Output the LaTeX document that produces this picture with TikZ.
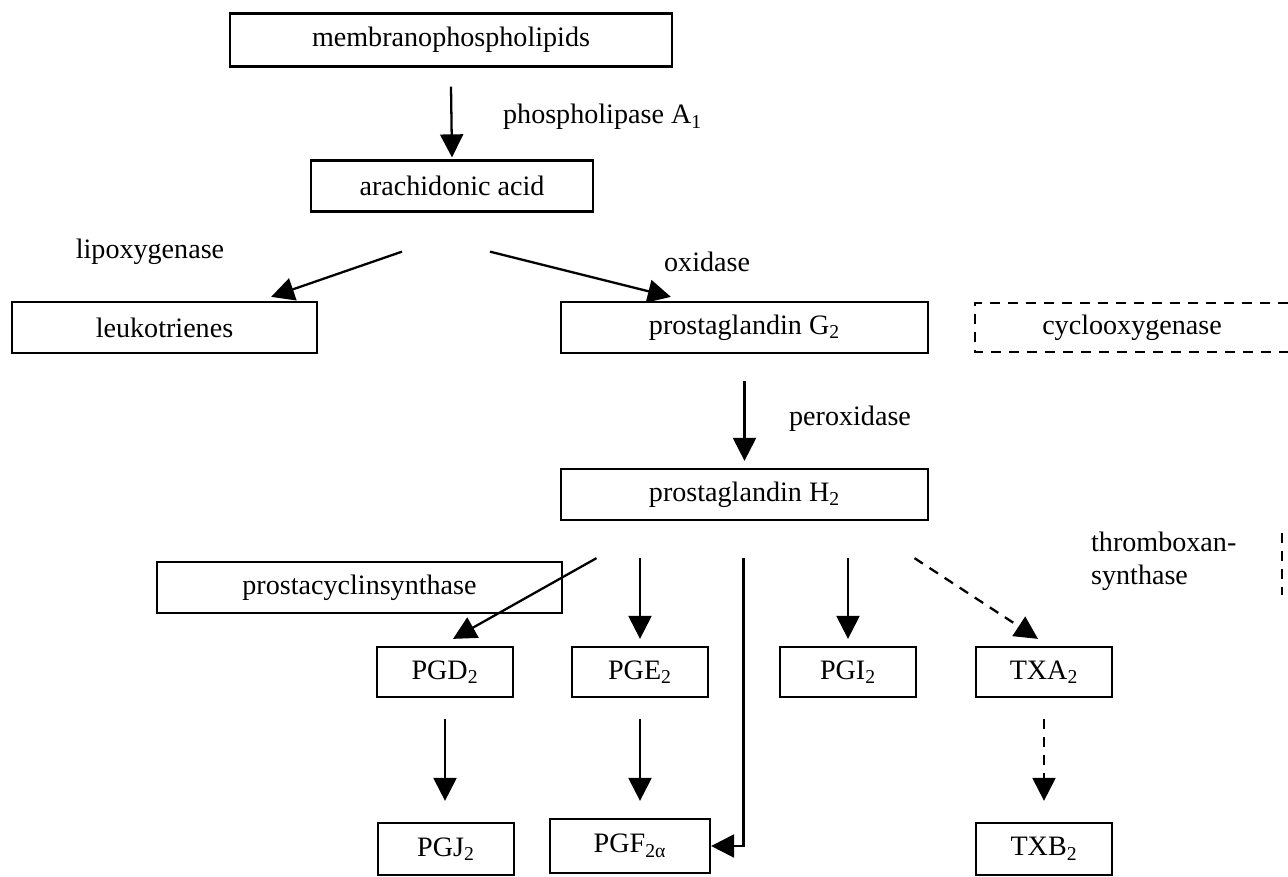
\documentclass[tikz,border=0pt]{standalone}
\usepackage{fontspec}
\setmainfont{Liberation Serif}
\usetikzlibrary{arrows.meta,positioning,calc}

\begin{document}
\begin{tikzpicture}[
  x=0.02cm, y=-0.02cm,
  font=\fontsize{16}{19}\selectfont,
  line width=1.3pt,
  stage/.style={draw,minimum height=1.02cm,inner sep=0pt},
  small/.style={stage,minimum width=2.72cm,minimum height=1.0cm},
  lab/.style={inner sep=0pt},
  arr/.style={-{Triangle[length=0.46cm,width=0.46cm]}},
  dashline/.style={dash pattern=on 0.2cm off 0.16cm}
]
\useasboundingbox (0,0) rectangle (1288,876);
% Top: membrane lipids to arachidonic acid
\node[stage,minimum width=8.84cm,minimum height=1.06cm] (mem) at (451,40) {membranophospholipids};
\node[stage,minimum width=5.64cm] (ara) at (452,186) {arachidonic acid};
\draw[arr] ($(mem.south)+(0,19)$) -- ($(ara.north)+(0,-2)$);
\node[lab,anchor=west] (pla) at (502,117) {phospholipase A\textsubscript{1}};
% Split: lipoxygenase / cyclooxygenase
\node[stage,minimum width=6.1cm] (leu) at (164.5,327.5) {leukotrienes};
\node[stage,minimum width=7.34cm] (g2) at (744.5,327.5) {prostaglandin G\textsubscript{2}};
\node[lab] (lox) at (150,252) {lipoxygenase};
\node[lab,anchor=west] (oxi) at (663,262) {oxidase};
\draw[arr] ($(ara.south)+(-50,39)$) -- ($(leu.north east)+(-47,-4)$);
\draw[arr] ($(ara.south)+(38,39)$) -- ($(g2.north west)+(111,-4)$);
\node[lab] (cox) at (1132,327.5) {cyclooxygenase};
\draw[dashline] (1288,303) -| (975,352) -- (1288,352);
% PGG2 to PGH2
\node[stage,minimum width=7.34cm] (h2) at (744.5,494.5) {prostaglandin H\textsubscript{2}};
\draw[arr] ($(g2.south)+(0,27)$) -- ($(h2.north)+(0,-7)$);
\node[lab,anchor=west] (per) at (788,419) {peroxidase};
\node[lab,anchor=west,align=left] (thx) at (1090,561) {thromboxan-\\synthase};
\draw[dashline] (1282,533) -- (1282,595);
\node[stage,minimum width=8.1cm] (pcs) at (359.5,587.5) {prostacyclinsynthase};
% Products of PGH2
\coordinate (fork) at ($(h2.south)+(0,37)$);
\node[small] (pgd) at (445,672) {PGD\textsubscript{2}};
\node[small] (pge) at (640,672) {PGE\textsubscript{2}};
\node[small] (pgi) at (848,672) {PGI\textsubscript{2}};
\node[small] (txa) at (1044,672) {TXA\textsubscript{2}};
\node[small,minimum height=1.04cm] (pgj) at (446,849) {PGJ\textsubscript{2}};
\node[small,minimum width=3.2cm,minimum height=1.08cm] (pgf) at (630,846) {PGF\textsubscript{2α}};
\node[small,minimum height=1.04cm] (txb) at (1044,849) {TXB\textsubscript{2}};
\draw[arr] ($(fork)+(-148,0)$) -- ($(pgd.north)+(8,-7)$);
\draw[arr] (pge |- fork) -- ($(pge.north)+(0,-7)$);
\draw[arr] ($(fork)+(-1,0)$) |- (pgf.east);
\draw[arr] (pgi |- fork) -- ($(pgi.north)+(0,-7)$);
\draw[arr,dashline] ($(fork)+(170,0)$) -- ($(txa.north)+(-6,-7)$);
% Second step
\draw[arr] ($(pgd.south)+(0,21)$) -- ($(pgd.south |- pgj.north)+(0,-21)$);
\draw[arr] ($(pge.south)+(0,21)$) -- ($(pge.south |- pgf.north)+(0,-17)$);
\draw[arr,dashline] ($(txa.south)+(0,21)$) -- ($(txb.north)+(0,-21)$);
\end{tikzpicture}
\end{document}
